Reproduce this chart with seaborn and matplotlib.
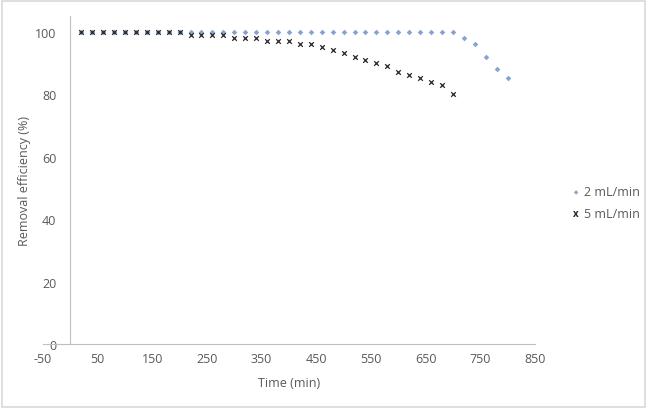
import numpy as np
import pandas as pd
import seaborn as sns
import matplotlib.pyplot as plt
from matplotlib.patches import Rectangle

# data
time_2 = list(range(20, 820, 20))
eff_2 = [100] * 35 + [98, 96, 92, 88, 85]

time_5 = list(range(20, 720, 20))
eff_5 = ([100] * 10 + [99] * 4 + [98] * 3 + [97] * 3 + [96] * 2
         + [95, 94, 93, 92, 91, 90, 89, 87, 86, 85, 84, 83, 80])

series_names = ['2 mL/min', '5 mL/min']
colors = ['#86a3d2', '#262626']

df2 = pd.DataFrame({'time': time_2, 'eff': eff_2})
df5 = pd.DataFrame({'time': time_5, 'eff': eff_5})

sns.set_style('white')
plt.rcParams['font.family'] = ['Open Sans', 'DejaVu Sans']
plt.rcParams['axes.unicode_minus'] = False
txt = '#595959'
axc = '#bfbfbf'

fig = plt.figure(figsize=(6.5, 4.14), dpi=100)
ax = fig.add_axes([0.066, 0.1667, 0.757, 0.7923])

# two calls: seaborn won't mix filled and line-art markers in one style mapping
sns.scatterplot(data=df2, x='time', y='eff', marker='D', color=colors[0],
                s=8, linewidth=0, ax=ax)
sns.scatterplot(data=df5, x='time', y='eff', marker='x', color=colors[1],
                s=11, linewidth=0.9, ax=ax)

ax.set_xlim(-50, 850)
ax.set_ylim(0, 105)
ax.set_xticks(range(-50, 851, 100))
ax.set_yticks(range(0, 101, 20))
ax.spines['left'].set_position(('data', 0))
ax.spines['top'].set_visible(False)
ax.spines['right'].set_visible(False)
ax.spines['left'].set_color(axc)
ax.spines['bottom'].set_color(axc)
ax.tick_params(axis='both', length=0, labelsize=9, colors=txt, pad=6)
ax.tick_params(axis='y', pad=10)
ax.set_xlabel('Time (min)', fontsize=9, color=txt, labelpad=8)
ax.set_ylabel('Removal efficiency (%)', fontsize=9, color=txt)
ax.yaxis.set_label_coords(-0.024, 0.5)

# legend, Excel style at the right
fig.text(0.886, 0.534, '\u25c6', fontsize=4, color=colors[0], ha='center', va='center')
fig.text(0.898, 0.534, series_names[0], fontsize=9, color=txt, va='center')
fig.text(0.886, 0.481, 'x', fontsize=7, color=colors[1], ha='center', va='center', fontweight='bold')
fig.text(0.898, 0.481, series_names[1], fontsize=9, color=txt, va='center')

# chart-area border
fig.patches.append(Rectangle((0.003, 0.014), 0.99, 0.98, transform=fig.transFigure,
                             fill=False, edgecolor='#d9d9d9', linewidth=1.2))

fig.savefig('out.png', dpi=100)
